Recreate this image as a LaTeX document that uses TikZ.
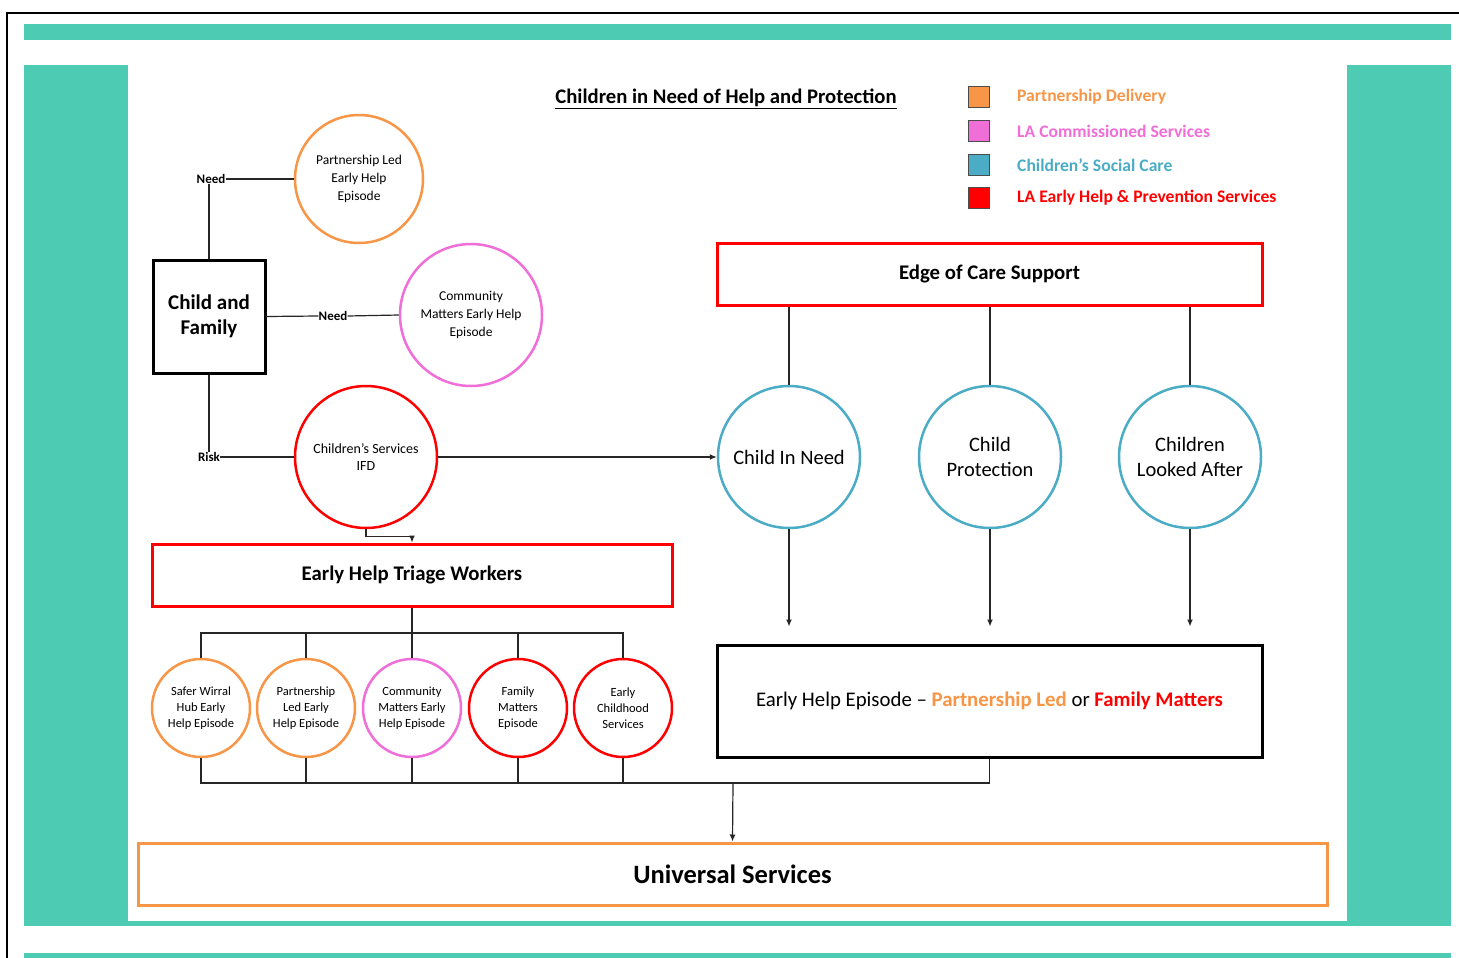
\documentclass[tikz,border=0pt]{standalone}
\usepackage{fontspec}
\setmainfont{Carlito}
\usetikzlibrary{arrows.meta}

\definecolor{frameteal}{RGB}{78,203,179}
\definecolor{porange}{RGB}{247,150,70}
\definecolor{lapink}{RGB}{240,110,215}
\definecolor{cscblue}{RGB}{75,172,198}
\definecolor{lared}{RGB}{255,0,0}

\begin{document}
\begin{tikzpicture}[x=1pt,y=-1pt,
  circ/.style={circle, draw, line width=2.5pt, align=center, inner sep=0pt},
  bigcirc/.style={circ, minimum size=142pt},
  smallcirc/.style={circ, minimum size=98pt, font=\fontsize{12.5}{16}\selectfont},
  bar/.style={draw, line width=3pt, minimum height=62pt, font=\bfseries\fontsize{20.8}{24}\selectfont},
  lbl/.style={inner sep=0pt, font=\bfseries\fontsize{13}{15}\selectfont},
  key/.style={draw=black!70, line width=1pt, minimum size=21pt, inner sep=0pt},
  keytext/.style={anchor=west, inner sep=0pt, font=\bfseries\fontsize{17.6}{20}\selectfont},
  link/.style={line width=1.2pt, black!85},
  >={Latex[length=7pt,width=6pt]}]

\useasboundingbox (0,0) rectangle (1459,958);
\fill[frameteal] (24,24) rectangle (1451,40);
\fill[frameteal] (24,65) rectangle (1451,925.7);
\fill[white] (128,65) rectangle (1347,921);
\fill[frameteal] (24,952.7) rectangle (1451,958);
\draw[line width=2pt] (7,958) -- (7,13) -- (1459,13);

\node[font=\bfseries\fontsize{20.7}{24}\selectfont] (title) at (726,99) {\underline{Children in Need of Help and Protection}};

\node[key, fill=porange] (k1) at (979,97) {};
\node[key, fill=lapink] (k2) at (979,131) {};
\node[key, fill=cscblue] (k3) at (979,165) {};
\node[key, fill=lared] (k4) at (979,198) {};
\node[keytext, text=porange] (t1) at (1017,97) {Partnership Delivery};
\node[keytext, text=lapink] (t2) at (1017,131) {LA Commissioned Services};
\node[keytext, text=cscblue] (t3) at (1017,165) {Children’s Social Care};
\node[keytext, text=lared] (t4) at (1017,198) {LA Early Help \& Prevention Services};

\node[draw, line width=3pt, minimum width=112pt, minimum height=113pt, align=center, font=\bfseries\fontsize{21}{25}\selectfont] (cf) at (209,316.5) {Child and\\Family};

\node[lbl] (need1) at (211,179) {Need};
\node[lbl] (need2) at (333,316) {Need};
\node[lbl] (risk) at (209,457) {Risk};

\node[circ, draw=porange, minimum size=128pt, font=\fontsize{13.5}{18}\selectfont] (plep) at (359,179) {Partnership Led\\Early Help\\Episode};
\node[bigcirc, draw=lapink, font=\fontsize{13.5}{18}\selectfont] (cmep) at (471,315) {Community\\Matters Early Help\\Episode};
\node[bigcirc, draw=lared, font=\fontsize{14}{17}\selectfont] (ifd) at (366,457) {Children’s Services\\IFD};

\node[bar, draw=lared, minimum width=520pt] (triage) at (412,575) {Early Help Triage Workers};
\node[smallcirc, draw=porange] (s1) at (201,708) {Safer Wirral\\Hub Early\\Help Episode};
\node[smallcirc, draw=porange] (s2) at (306,708) {Partnership\\Led Early\\Help Episode};
\node[smallcirc, draw=lapink] (s3) at (412,708) {Community\\Matters Early\\Help Episode};
\node[smallcirc, draw=lared] (s4) at (518,708) {Family\\Matters\\Episode};
\node[smallcirc, draw=lared] (s5) at (623,708) {Early\\Childhood\\Services};

\node[bar, draw=lared, minimum width=545pt] (edge) at (989.5,274) {Edge of Care Support};
\node[bigcirc, draw=cscblue, font=\fontsize{20.5}{25}\selectfont] (cin) at (789,457) {Child In Need};
\node[bigcirc, draw=cscblue, font=\fontsize{20.5}{25}\selectfont] (cp) at (990,457) {Child\\Protection};
\node[bigcirc, draw=cscblue, font=\fontsize{20.5}{25}\selectfont] (cla) at (1190,457) {Children\\Looked After};

\node[draw, line width=3pt, minimum width=545pt, minimum height=112pt, font=\fontsize{20.8}{24}\selectfont] (ehe) at (989.5,701) {Early Help Episode -- {\color{porange}\bfseries Partnership Led} or {\color{lared}\bfseries Family Matters}};

\node[bar, draw=porange, minimum width=1189pt, font=\bfseries\fontsize{26.5}{30}\selectfont] (univ) at (732.5,874) {Universal Services};

\coordinate (bus1) at (412,633);
\coordinate (bus2) at (733,783);

\draw[link] (cf.north) -- (cf.north |- need1.south);
\draw[link] (need1.east) -- (plep.west);
\draw[link] (cf.east) -- (need2.west);
\draw[link] (need2.east) -- (cmep.west);
\draw[link] (cf.south) -- (cf.south |- risk.north);
\draw[link] (risk.east) -- (ifd.west);
\draw[link, ->] (ifd.east) -- (cin.west);
\draw[link, ->] (ifd.south) -- ++(0,7) -| (triage.north);

\draw[link] (triage.south) -- (bus1);
\foreach \s in {s1,s2,s3,s4,s5}
  \draw[link] (\s.north) |- (bus1);
\foreach \s in {s1,s2,s3,s4,s5}
  \draw[link] (\s.south) |- (bus2);
\draw[link] (ehe.south) |- (bus2);
\draw[link, ->] (bus2) -- (univ.north);

\foreach \c in {cin,cp,cla}
  \draw[link] (edge.south -| \c) -- (\c.north);
\foreach \c in {cin,cp,cla}
  \draw[link, ->] (\c.south) -- ([yshift=17pt]\c.south |- ehe.north);

\end{tikzpicture}
\end{document}
